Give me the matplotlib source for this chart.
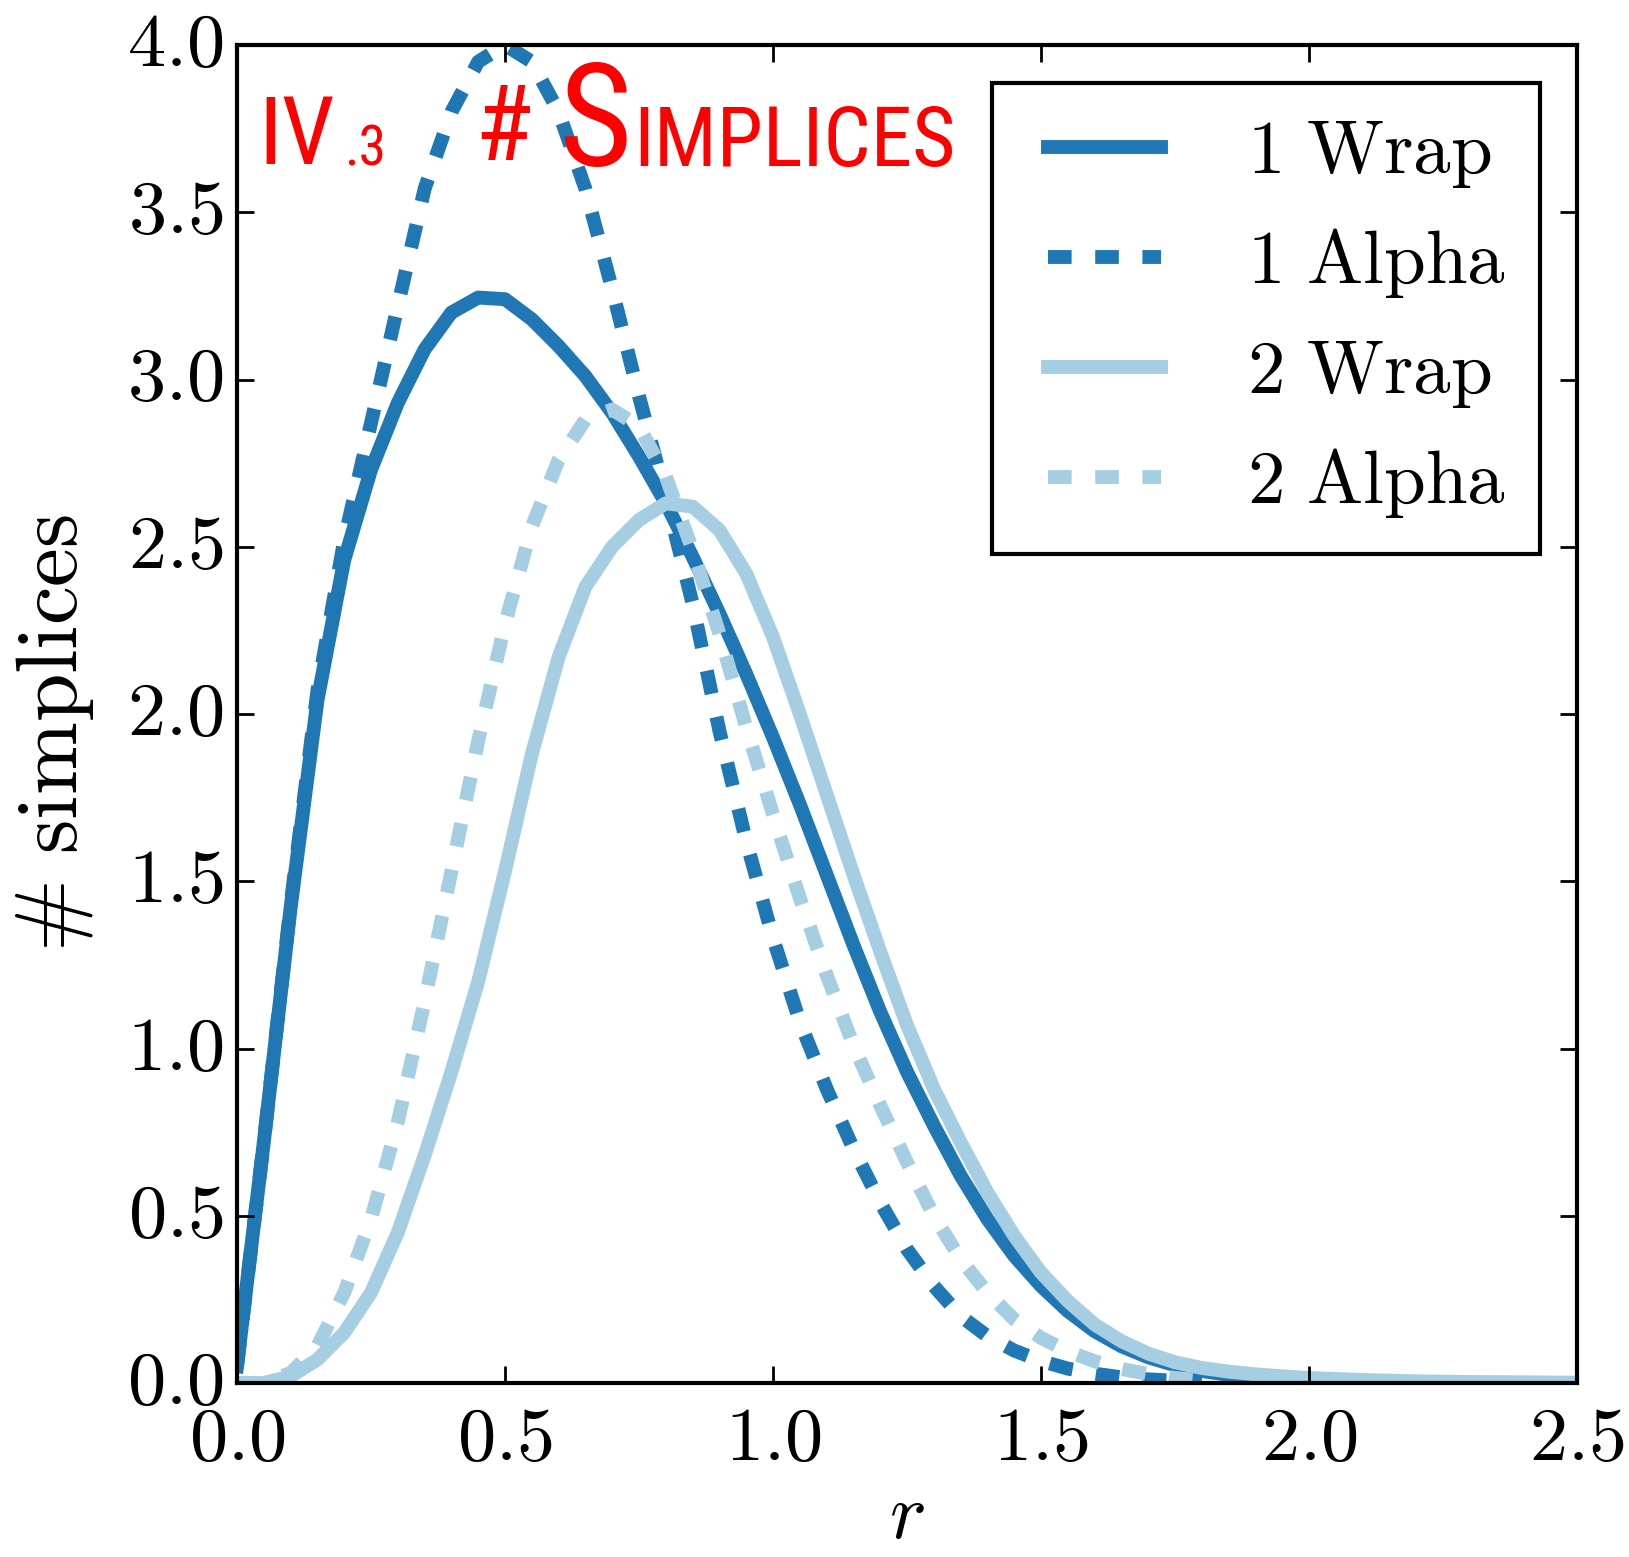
import matplotlib
matplotlib.use("Agg")
import matplotlib.pyplot as plt
from matplotlib.ticker import FormatStrFormatter, MultipleLocator

# radius grid for the wrap complexes (runs out to 2.5)
r_wrap = [0.0, 0.05, 0.1, 0.15, 0.2, 0.25, 0.3, 0.35, 0.4, 0.45,
          0.5, 0.55, 0.6, 0.65, 0.7, 0.75, 0.8, 0.85, 0.9, 0.95,
          1.0, 1.05, 1.1, 1.15, 1.2, 1.25, 1.3, 1.35, 1.4, 1.45,
          1.5, 1.55, 1.6, 1.65, 1.7, 1.75, 1.8, 1.85, 1.9, 1.95,
          2.0, 2.1, 2.2, 2.3, 2.4, 2.5]

# radius grid for the alpha complexes (stops once the counts vanish)
r_alpha = [0.0, 0.05, 0.1, 0.15, 0.2, 0.25, 0.3, 0.35, 0.4, 0.45,
           0.5, 0.55, 0.6, 0.65, 0.7, 0.75, 0.8, 0.85, 0.9, 0.95,
           1.0, 1.05, 1.1, 1.15, 1.2, 1.25, 1.3, 1.35, 1.4, 1.45,
           1.5, 1.55, 1.6, 1.65, 1.7, 1.75, 1.8]

wrap_1 = [0.05, 0.72, 1.42, 2.04, 2.46, 2.73, 2.93, 3.09, 3.20, 3.245,
          3.24, 3.18, 3.10, 3.01, 2.90, 2.77, 2.63, 2.47, 2.30, 2.12,
          1.93, 1.73, 1.52, 1.31, 1.11, 0.93, 0.77, 0.62, 0.49, 0.38,
          0.29, 0.215, 0.155, 0.11, 0.077, 0.053, 0.036, 0.024, 0.016, 0.01,
          0.007, 0.003, 0.001, 0.0, 0.0, 0.0]

alpha_1 = [0.05, 0.72, 1.43, 2.07, 2.52, 2.87, 3.22, 3.57, 3.80, 3.95,
           4.00, 3.95, 3.80, 3.57, 3.27, 2.95, 2.65, 2.33, 1.95, 1.62,
           1.33, 1.08, 0.88, 0.70, 0.54, 0.40, 0.29, 0.20, 0.14, 0.097,
           0.066, 0.043, 0.028, 0.017, 0.011, 0.007, 0.004]

wrap_2 = [0.0, 0.0, 0.02, 0.07, 0.15, 0.27, 0.45, 0.68, 0.93, 1.20,
          1.53, 1.88, 2.17, 2.38, 2.50, 2.58, 2.63, 2.62, 2.55, 2.42,
          2.23, 2.00, 1.76, 1.52, 1.29, 1.07, 0.88, 0.72, 0.57, 0.44,
          0.33, 0.245, 0.175, 0.125, 0.088, 0.062, 0.045, 0.034, 0.026, 0.02,
          0.015, 0.009, 0.005, 0.003, 0.002, 0.001]

alpha_2 = [0.0, 0.0, 0.03, 0.11, 0.27, 0.49, 0.78, 1.14, 1.53, 1.92,
           2.27, 2.56, 2.76, 2.88, 2.91, 2.86, 2.71, 2.49, 2.24, 1.96,
           1.70, 1.45, 1.22, 1.01, 0.83, 0.66, 0.50, 0.37, 0.27, 0.19,
           0.135, 0.095, 0.065, 0.042, 0.027, 0.015, 0.008]

dark = '#1f78b4'
light = '#a6cee3'

plt.style.use('classic')
plt.rcParams['mathtext.fontset'] = 'cm'
plt.rcParams['figure.facecolor'] = 'white'
plt.rcParams['savefig.facecolor'] = 'white'
plt.rcParams['lines.scale_dashes'] = False

W, H = 1629, 1557
fig = plt.figure(figsize=(W / 100, H / 100), dpi=100)
ax = fig.add_axes([237 / W, 1 - 1383 / H, 1340 / W, 1338 / H])

lw = 10
dash = (17, 17)
ax.plot(r_wrap, wrap_1, color=dark, lw=lw, solid_capstyle='projecting',
        label=r'$\mathrm{1\ Wrap}$')
ax.plot(r_alpha, alpha_1, color=dark, lw=lw, dashes=dash,
        label=r'$\mathrm{1\ Alpha}$')
ax.plot(r_wrap, wrap_2, color=light, lw=lw, solid_capstyle='projecting',
        label=r'$\mathrm{2\ Wrap}$')
ax.plot(r_alpha, alpha_2, color=light, lw=lw, dashes=dash,
        label=r'$\mathrm{2\ Alpha}$')

ax.set_xlim(0, 2.5)
ax.set_ylim(0, 4.0)
ax.xaxis.set_major_locator(MultipleLocator(0.5))
ax.yaxis.set_major_locator(MultipleLocator(0.5))
ax.xaxis.set_major_formatter(FormatStrFormatter(r'$%.1f$'))
ax.yaxis.set_major_formatter(FormatStrFormatter(r'$%.1f$'))
ax.tick_params(which='major', direction='in', length=12, width=2,
               top=True, right=True, labelsize=55)
ax.tick_params(axis='x', pad=14)
ax.tick_params(axis='y', pad=10)
ax.minorticks_off()
for sp in ax.spines.values():
    sp.set_linewidth(3)

ax.set_xlabel(r'$r$', fontsize=56, labelpad=1)
ax.set_ylabel(r'$\#\ \mathrm{simplices}$', fontsize=63)
ax.yaxis.set_label_coords(-0.105, 0.486)

leg = ax.legend(loc='upper right', fontsize=54, numpoints=2,
                handlelength=2.1, handletextpad=0.85, labelspacing=0.48,
                borderpad=0.45, borderaxespad=0.5, fancybox=False)
leg.get_frame().set_linewidth(3)
leg.get_frame().set_edgecolor('black')

# red section heading written over the top of the plot
hand = ['Roboto Condensed', 'Roboto', 'DejaVu Sans']
red = '#ff0000'
fig.canvas.draw()
rend = fig.canvas.get_renderer()


def put(x, y, s, size):
    t = fig.text(x / W, 1 - y / H, s, color=red, fontsize=size,
                 family=hand, va='baseline')
    return t.get_window_extent(rend).x1


put(258, 164, 'IV', 68)
put(344, 166, '.3', 40)
put(474, 160, '#', 76)
x_end = put(558, 166, 'S', 102)
put(x_end + 2, 166, 'IMPLICES', 60)

fig.savefig('out.png', dpi=100)
